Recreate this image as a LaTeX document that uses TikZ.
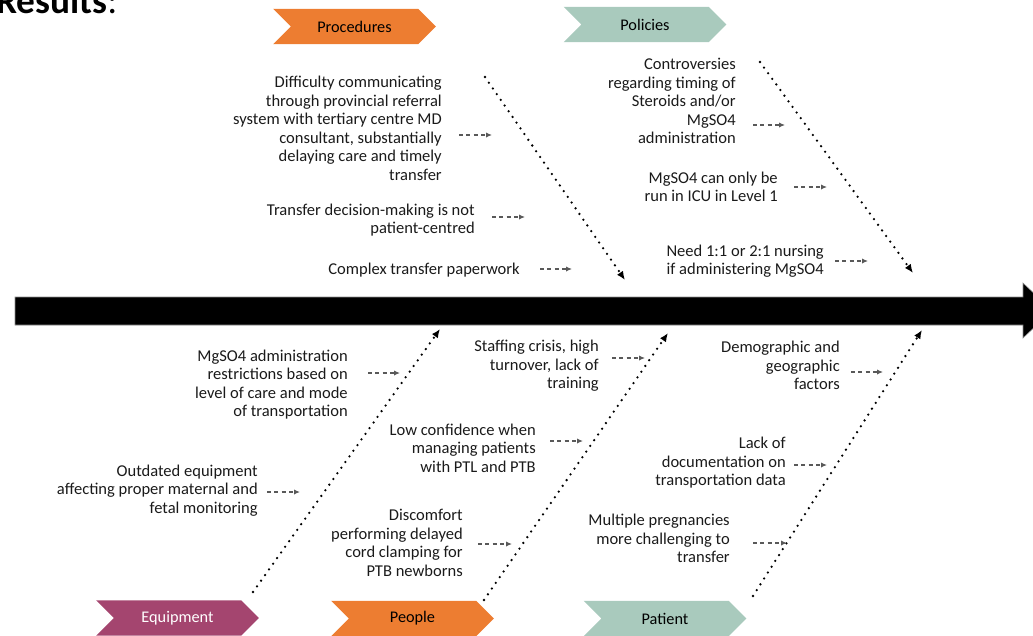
\documentclass[tikz,border=0pt]{standalone}
\usepackage{fontspec}
\setmainfont{Carlito}
\usetikzlibrary{arrows.meta,shapes.symbols}
\definecolor{orng}{HTML}{ED7D31}
\definecolor{sage}{HTML}{A9CABD}
\definecolor{plum}{HTML}{A4456F}
\definecolor{txt}{HTML}{1A1A1A}

\begin{document}
\begin{tikzpicture}[x=0.75pt,y=-0.75pt,
  cat/.style={signal,signal from=west,signal to=east,minimum width=122pt,minimum height=26.5pt,inner sep=0pt,font=\fontsize{12.2}{13.9}\selectfont},
  cause/.style={align=right,anchor=east,inner sep=0pt,text=txt,font=\fontsize{12.4}{13.9}\selectfont},
  bone/.style={line width=1.9pt,line cap=round,dash pattern=on 0pt off 5.2pt,-{Latex[length=6.5pt,width=5.5pt]}},
  link/.style={draw=black!65,line width=0.9pt,dash pattern=on 3pt off 2.5pt,-{Latex[length=4.5pt,width=4pt]}}]
\useasboundingbox (0,0) rectangle (1033,636);
\node[anchor=base west,inner sep=0pt,font=\bfseries\fontsize{28}{34}\selectfont] (res) at (-4,13) {Results\mdseries:};
% spine
\fill[black,draw=black!45] (15,297) -- (1023,297) -- (1023,283) -- (1052,310.5) -- (1023,338) -- (1023,325) -- (15,325) -- cycle;
% categories
\node[cat,fill=orng] (proc) at (354.5,26.5) {Procedures};
\node[cat,fill=sage] (pol) at (645,24.5) {Policies};
\node[cat,fill=plum,text=white] (equip) at (177.5,618) {Equipment};
\node[cat,fill=orng] (peop) at (412.5,618.5) {People};
\node[cat,fill=sage] (pat) at (665,618.5) {Patient};
% bones
\coordinate (procA) at (485,77);  \coordinate (procB) at (625,280);
\coordinate (polA) at (760,62);   \coordinate (polB) at (913,273);
\coordinate (equipA) at (253,592); \coordinate (equipB) at (440,329);
\coordinate (peopA) at (484,600); \coordinate (peopB) at (668,333);
\coordinate (patA) at (753,596);  \coordinate (patB) at (922,330);
\foreach \b in {proc,pol,equip,peop,pat}
  \draw[bone] (\b A) -- (\b B);
% procedures
\node[cause] (pr1) at (442,128.5) {Difficulty communicating\\through provincial referral\\system with tertiary centre MD\\consultant, substantially\\delaying care and timely\\transfer};
\node[cause] (pr2) at (475,220) {Transfer decision-making is not\\patient-centred};
\node[cause] (pr3) at (520,270) {Complex transfer paperwork};
\draw[link] ([shift={(17,6.5)}]pr1.east) -- ++(33,0);
\draw[link] ([shift={(17,-3)}]pr2.east) -- ++(33,0);
\draw[link] ([shift={(20,-1)}]pr3.east) -- ++(32,0);
% policies
\node[cause] (po1) at (736,101) {Controversies\\regarding timing of\\Steroids and/or\\MgSO4\\administration};
\node[cause] (po2) at (778,187) {MgSO4 can only be\\run in ICU in Level 1};
\node[cause] (po3) at (824,261) {Need 1:1 or 2:1 nursing\\if administering MgSO4};
\draw[link] ([shift={(17,24)}]po1.east) -- ++(32,0);
\draw[link] ([shift={(16,0)}]po2.east) -- ++(33,0);
\draw[link] ([shift={(11,0)}]po3.east) -- ++(33,0);
% equipment
\node[cause] (eq1) at (348,384.5) {MgSO4 administration\\restrictions based on\\level of care and mode\\of transportation};
\node[cause] (eq2) at (258,490.5) {Outdated equipment\\affecting proper maternal and\\fetal monitoring};
\draw[link] ([shift={(20,-11.5)}]eq1.east) -- ++(32,0);
\draw[link] ([shift={(9,1.5)}]eq2.east) -- ++(33,0);
% people
\node[cause] (pe1) at (599,366) {Staffing crisis, high\\turnover, lack of\\training};
\node[cause] (pe2) at (536,448) {Low confidence when\\managing patients\\with PTL and PTB};
\node[cause] (pe3) at (463,543) {Discomfort\\performing delayed\\cord clamping for\\PTB newborns};
\draw[link] ([shift={(13,-8)}]pe1.east) -- ++(33,0);
\draw[link] ([shift={(14,-7)}]pe2.east) -- ++(33,0);
\draw[link] ([shift={(15,1)}]pe3.east) -- ++(34,0);
% patient
\node[cause] (pa1) at (840,365.5) {Demographic and\\geographic\\factors};
\node[cause] (pa2) at (786,463) {Lack of\\documentation on\\transportation data};
\node[cause] (pa3) at (730,538.5) {Multiple pregnancies\\more challenging to\\transfer};
\draw[link] ([shift={(11,6.5)}]pa1.east) -- ++(32,0);
\draw[link] ([shift={(8,2)}]pa2.east) -- ++(33,0);
\draw[link] ([shift={(23,4.5)}]pa3.east) -- ++(34,0);
\end{tikzpicture}
\end{document}
